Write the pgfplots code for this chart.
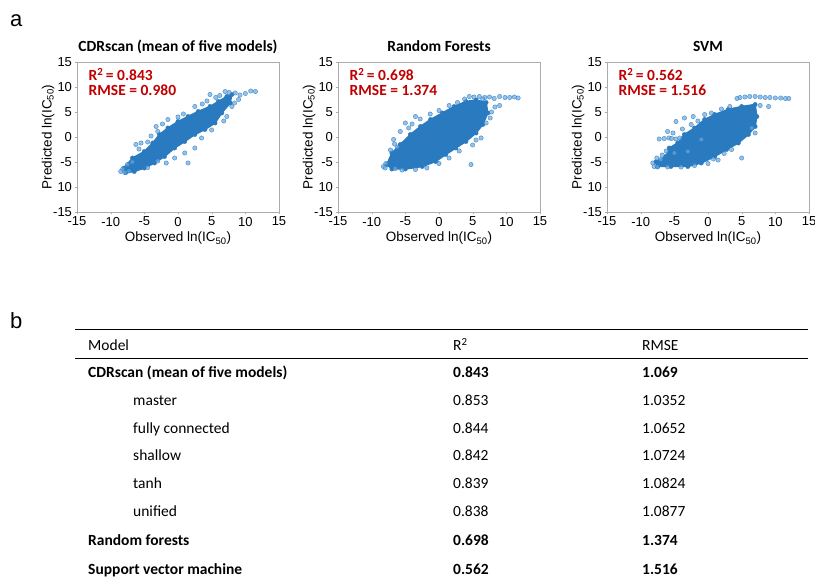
\documentclass[border=0pt]{standalone}
\usepackage{pgfplots}
\pgfplotsset{compat=1.18}
\usepackage{fontspec}
\setmainfont{Carlito}
\newfontfamily\arial{Liberation Sans}
\definecolor{cblue}{HTML}{2A7AC0}
\definecolor{lblue}{HTML}{6AA8E0}
\definecolor{dred}{HTML}{C00000}
\pgfplotsset{
  scat/.style={
    scale only axis, width=202pt, height=150pt, anchor=south west,
    xmin=-15, xmax=15, ymin=-15, ymax=15,
    xtick={-15,-10,-5,0,5,10,15}, xticklabels={-15,-10,-5,0,5,10,15},
    ytick={-15,-10,-5,0,5,10,15}, yticklabels={-15,10,-5,0,5,10,15},
    tick align=outside, major tick length=2.5pt,
    xtick pos=left, ytick pos=left,
    axis line style={gray!65, line width=0.6pt},
    tick style={gray!65},
    ticklabel style={font=\arial\fontsize{13}{14}\selectfont, text=black},
    xticklabel style={yshift=1pt},
    yticklabel style={xshift=1pt},
    label style={font=\arial\fontsize{13.5}{14}\selectfont},
    xlabel={Observed ln(IC\textsubscript{50})},
    ylabel={Predicted ln(IC\textsubscript{50})},
    xlabel style={yshift=1pt},
    ylabel style={yshift=-8pt},
    clip=false,
  },
  core/.style={fill=cblue, draw=cblue, line width=1.5pt},
  edge/.style={only marks, mark=*, mark size=2.2pt, mark options={fill=cblue, draw=cblue, line width=0.3pt}},
  outl/.style={only marks, mark=*, mark size=2.2pt, mark options={fill=lblue, draw=cblue, fill opacity=0.7, draw opacity=0.9, line width=0.35pt}},
}
\newcommand{\ttl}[1]{\node[anchor=base, inner sep=0, font=\bfseries\fontsize{15.5}{16}\selectfont] at (rel axis cs:0.5,1) [yshift=10pt] {#1};}
\newcommand{\stats}[2]{%
  \node[anchor=base west, inner sep=0, text=dred, font=\bfseries\fontsize{15.5}{16}\selectfont] at (axis cs:-13.3,11.3) {R\textsuperscript{2}\,= #1};
  \node[anchor=base west, inner sep=0, text=dred, font=\bfseries\fontsize{15.5}{16}\selectfont] at (axis cs:-13.3,8.3) {RMSE = #2};
}
\begin{document}
\begin{tikzpicture}
\path[use as bounding box] (0pt,0pt) rectangle (815pt,-577pt);
\node[anchor=base west, inner sep=0, font=\arial\fontsize{22}{22}\selectfont] at (10pt,-27pt) {a};
\node[anchor=base west, inner sep=0, font=\arial\fontsize{22}{22}\selectfont] at (10pt,-329pt) {b};

% ---------- Plot 1 ----------
\begin{axis}[scat, at={(77pt,-212pt)}]
\addplot[core] coordinates {(-8,-6.2) (-6.75,-4.2) (-5,-2.9) (-3.75,-1.2) (-2.75,0.5) (-1.5,1.8) (0,3.1) (1.5,4.1) (3,5.1) (4.75,6.1) (6,7.1) (7.25,8.1) (8,8.5) (7.75,6.8) (6.5,4.8) (5.5,2.8) (4,1.5) (2.5,0.5) (1,-0.9) (-0.5,-2.2) (-2,-3.9) (-3.5,-5.2) (-5,-6.2) (-6.5,-6.9) (-7.75,-7.1) (-8,-6.2)};
\addplot[edge] coordinates {(-8,-6.2) (-6.75,-4.2) (-5,-2.9) (-3.75,-1.2) (-2.75,0.5) (-1.5,1.8) (0,3.1) (1.5,4.1) (3,5.1) (4.75,6.1) (6,7.1) (7.25,8.1) (8,8.5) (7.75,6.8) (6.5,4.8) (5.5,2.8) (4,1.5) (2.5,0.5) (1,-0.9) (-0.5,-2.2) (-2,-3.9) (-3.5,-5.2) (-5,-6.2) (-6.5,-6.9) (-7.75,-7.1)};
\addplot[outl] coordinates {(-8.5,-6.9) (-8.2,-6.4) (-7.9,-7.1) (-7.3,-6.8) (-6.25,-1.5) (-5.5,-1.2) (-5.8,-2.4) (-4.5,-1.0) (-3.25,2.1) (-3.0,1.1) (-1.5,3.5) (0,4.0) (0.8,4.6) (2.5,6.1) (3.6,6.6) (4.75,8.5) (6.2,8.3) (7,9.1) (7.6,8.9) (8.5,8.8) (9.2,8.4) (10,8.7) (10.8,9.2) (11.5,9.1) (9,7.5) (8,6.1) (8.4,6.8) (7.25,4.1) (6.8,3.2) (1.5,-5.2) (1,-3.2) (2.5,-2.2) (-0.5,-4.2) (-1.75,-5.2) (-3,-4.8) (-4.5,-6.1) (3.5,-0.2) (5,1.4) (-6.8,-5.0) (-7.5,-5.5) (4.3,7.2) (5.6,7.9) (-2.3,2.6) (-4,0.2)};
\stats{0.843}{0.980}
\ttl{CDRscan (mean of five models)}
\end{axis}

% ---------- Plot 2 ----------
\begin{axis}[scat, at={(338pt,-212pt)}]
\addplot[core] coordinates {(-7.75,-5.5) (-7,-3.2) (-5.75,-1.5) (-4.25,0.5) (-2.75,2.1) (-1.25,3.5) (0.5,4.8) (2.25,6.1) (4,7.1) (5.5,7.4) (7,6.9) (7.25,4.8) (6.5,2.5) (5.5,0.8) (4,-0.9) (2.5,-2.2) (1,-3.5) (-0.5,-4.9) (-2.5,-5.9) (-5,-6.4) (-7,-6.4) (-7.75,-5.5)};
\addplot[edge] coordinates {(-7.75,-5.5) (-7,-3.2) (-5.75,-1.5) (-4.25,0.5) (-2.75,2.1) (-1.25,3.5) (0.5,4.8) (2.25,6.1) (4,7.1) (5.5,7.4) (7,6.9) (7.25,4.8) (6.5,2.5) (5.5,0.8) (4,-0.9) (2.5,-2.2) (1,-3.5) (-0.5,-4.9) (-2.5,-5.9) (-5,-6.4) (-7,-6.4)};
\addplot[outl] coordinates {(-8.25,-5.9) (-7.9,-5.3) (-8,-6.2) (-6.75,-0.5) (-5.75,1.1) (-5,2.8) (-3.5,4.1) (-2.8,3.6) (-6.2,-2.0) (-7.2,-2.6) (-1.3,4.6) (0,5.3) (2.75,6.9) (4.5,8.1) (5.2,8.0) (6,8.1) (6.8,7.9) (7.5,8.0) (8.2,7.7) (9,8.1) (9.8,7.9) (10.5,7.9) (11.2,8.0) (11.75,7.8) (9,6.3) (8.3,6.0) (7.8,5.0) (7,2.8) (6.25,-0.2) (5.5,-0.6) (4.75,-5.5) (3.0,-2.8) (1.5,-4.2) (0,-5.3) (-1.8,-6.2) (-3.5,-6.5) (-5.5,-6.6) (-6.5,-6.3) (3.8,7.6) (1.5,6.3) (-4.5,1.8) (5,-1.6) (-6.6,-1.4) (-4.0,2.6) (6.5,7.6) (7.6,3.8)};
\stats{0.698}{1.374}
\ttl{Random Forests}
\end{axis}

% ---------- Plot 3 ----------
\begin{axis}[scat, at={(607pt,-212pt)}]
\addplot[core] coordinates {(-7.75,-5.0) (-6.25,-3.9) (-5.75,-2.2) (-4.5,-1.2) (-3.5,0.5) (-2,1.8) (-0.5,3.5) (1,4.5) (3,5.5) (5,6.1) (7,6.5) (7.25,4.1) (7,2.1) (6,0.5) (4.5,-1.2) (2.75,-2.5) (1,-3.9) (-1,-5.2) (-3,-5.9) (-5.5,-5.9) (-7.5,-5.9) (-7.75,-5.0)};
\addplot[edge] coordinates {(-7.75,-5.0) (-6.25,-3.9) (-5.75,-2.2) (-4.5,-1.2) (-3.5,0.5) (-2,1.8) (-0.5,3.5) (1,4.5) (3,5.5) (5,6.1) (7,6.5) (7.25,4.1) (7,2.1) (6,0.5) (4.5,-1.2) (2.75,-2.5) (1,-3.9) (-1,-5.2) (-3,-5.9) (-5.5,-5.9) (-7.5,-5.9)};
\addplot[outl] coordinates {(-8,-5.9) (-8.2,-5.2) (-7.5,-6.0) (-7,-4.5) (-7.25,-0.4) (-6.5,-0.3) (-5.8,-0.2) (-4.75,-0.4) (-6,1.1) (-5,-3.2) (-3,-2.9) (-4.75,3.1) (-3.5,3.8) (-2.2,4.1) (-0.5,4.5) (0.5,4.8) (3.25,6.1) (2,5.6) (4.75,7.9) (5.5,8.0) (6.2,8.1) (7,8.1) (7.75,8.0) (8.5,7.9) (9.2,7.9) (10,7.8) (10.8,7.8) (11.5,7.7) (12,7.7) (7.75,6.3) (9,6.1) (7,0.8) (6.5,1.8) (5,-4.2) (3.5,-2.5) (1.5,-4.6) (0,-5.3) (-2,-5.7) (-4,-6.0) (-6,-6.0) (-2.5,2.5) (-1,-0.5) (4.3,7.7) (-6.8,-3.6) (-6.2,-2.8) (-7.6,-4.2) (-5.4,-0.3) (-4.2,-0.2) (-3.8,1.6) (-5.2,0.8) (-1.5,3.2) (0.8,-4.4) (2.4,-3.3)};
\stats{0.562}{1.516}
\ttl{SVM}
\end{axis}

% ---------- Table ----------
\draw[line width=1pt] (75pt,-330pt) -- (808pt,-330pt);
\draw[line width=0.6pt] (75pt,-358pt) -- (808pt,-358pt);
\begin{scope}[every node/.style={anchor=base west, inner sep=0, font=\fontsize{15.5}{16}\selectfont}]
\node at (88pt,-351pt) {Model};
\node at (453pt,-351pt) {R\textsuperscript{2}};
\node at (642pt,-351pt) {RMSE};
\node[font=\bfseries\fontsize{15.5}{16}\selectfont] at (88pt,-377.5pt) {CDRscan (mean of five models)};
\node[font=\bfseries\fontsize{15.5}{16}\selectfont] at (453pt,-377.5pt) {0.843};
\node[font=\bfseries\fontsize{15.5}{16}\selectfont] at (642pt,-377.5pt) {1.069};
\node at (133pt,-405.5pt) {master};          \node at (453pt,-405.5pt) {0.853}; \node at (642pt,-405.5pt) {1.0352};
\node at (133pt,-433.5pt) {fully connected}; \node at (453pt,-433.5pt) {0.844}; \node at (642pt,-433.5pt) {1.0652};
\node at (133pt,-460.5pt) {shallow};         \node at (453pt,-460.5pt) {0.842}; \node at (642pt,-460.5pt) {1.0724};
\node at (133pt,-488.5pt) {tanh};            \node at (453pt,-488.5pt) {0.839}; \node at (642pt,-488.5pt) {1.0824};
\node at (133pt,-516.5pt) {unified};         \node at (453pt,-516.5pt) {0.838}; \node at (642pt,-516.5pt) {1.0877};
\node[font=\bfseries\fontsize{15.5}{16}\selectfont] at (88pt,-545.5pt) {Random forests};
\node[font=\bfseries\fontsize{15.5}{16}\selectfont] at (453pt,-545.5pt) {0.698};
\node[font=\bfseries\fontsize{15.5}{16}\selectfont] at (642pt,-545.5pt) {1.374};
\node[font=\bfseries\fontsize{15.5}{16}\selectfont] at (88pt,-574pt) {Support vector machine};
\node[font=\bfseries\fontsize{15.5}{16}\selectfont] at (453pt,-574pt) {0.562};
\node[font=\bfseries\fontsize{15.5}{16}\selectfont] at (642pt,-574pt) {1.516};
\end{scope}
\end{tikzpicture}
\end{document}
